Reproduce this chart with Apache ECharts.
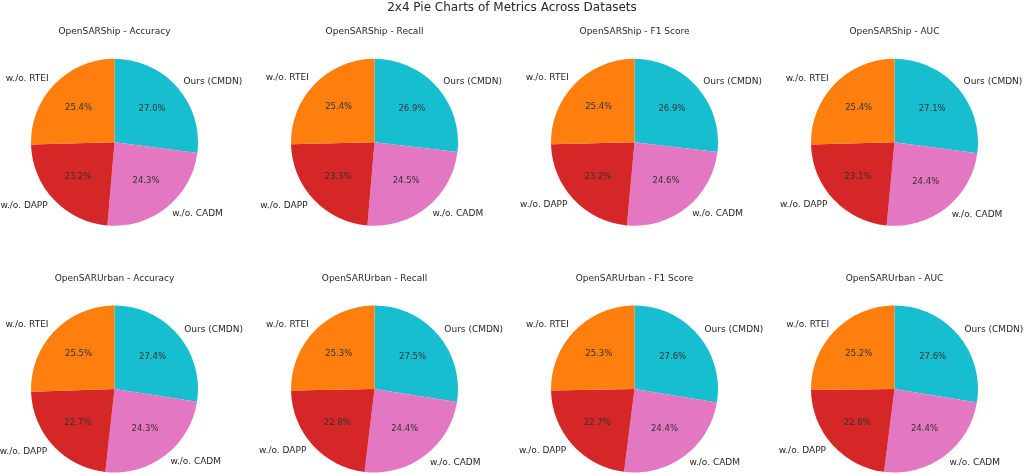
<!DOCTYPE html>
<html>
<head>
<meta charset="utf-8">
<script src="https://cdn.jsdelivr.net/npm/echarts@6/dist/echarts.min.js"></script>
<style>
  html, body { margin: 0; padding: 0; background: #fff; }
  #chart { width: 1024px; height: 474px; }
</style>
</head>
<body>
<div id="chart"></div>
<script>
// slice order, clockwise from 12 o'clock
const methods = ["Ours (CMDN)", "w./o. CADM", "w./o. DAPP", "w./o. RTEI"];
const colors = ["#17becf", "#e377c2", "#d62728", "#ff7f0e"];

const datasets = ["OpenSARShip", "OpenSARUrban"];
const metrics = ["Accuracy", "Recall", "F1 Score", "AUC"];

// shares (%), one array per panel
const shipAccuracy = [27.0, 24.3, 23.2, 25.4];
const shipRecall = [26.9, 24.5, 23.3, 25.4];
const shipF1 = [26.9, 24.6, 23.2, 25.4];
const shipAUC = [27.1, 24.4, 23.1, 25.4];
const urbanAccuracy = [27.4, 24.3, 22.7, 25.5];
const urbanRecall = [27.5, 24.4, 22.8, 25.3];
const urbanF1 = [27.6, 24.4, 22.7, 25.3];
const urbanAUC = [27.6, 24.4, 22.8, 25.2];

const panels = [
  [shipAccuracy, shipRecall, shipF1, shipAUC],
  [urbanAccuracy, urbanRecall, urbanF1, urbanAUC]
];

const colX = [114.5, 374.5, 634.5, 894.5];
const rowY = [142.3, 389];
const R = 83.5;
const font = "DejaVu Sans";

const chart = echarts.init(document.getElementById("chart"));

const titles = [{
  text: "2x4 Pie Charts of Metrics Across Datasets",
  left: 512, top: 2, textAlign: "center", padding: 0,
  textStyle: { fontFamily: font, fontSize: 12, fontWeight: "normal", color: "#262626" }
}];
const series = [];

datasets.forEach((ds, ri) => {
  metrics.forEach((m, ci) => {
    const vals = panels[ri][ci];
    const data = methods.map((name, k) => ({ name: name, value: vals[k] }));
    const center = [colX[ci], rowY[ri]];
    titles.push({
      text: ds + " - " + m,
      left: colX[ci], top: rowY[ri] - 115, textAlign: "center", padding: 0,
      textStyle: { fontFamily: font, fontSize: 9, fontWeight: "normal", color: "#262626" }
    });
    // wedges with the outer method labels
    series.push({
      type: "pie",
      center: center,
      radius: [0, R],
      startAngle: 90,
      clockwise: true,
      avoidLabelOverlap: false,
      silent: true,
      color: colors,
      itemStyle: { borderWidth: 0 },
      label: {
        position: "outside",
        formatter: "{b}",
        fontFamily: font, fontSize: 9, color: "#262626",
        distanceToLabelLine: 0
      },
      labelLine: { show: false, length: R * 0.1, length2: 0 },
      data: data
    });
    // transparent overlay for the percentage labels at 0.6 r
    series.push({
      type: "pie",
      center: center,
      radius: [R * 0.2 - 6, R],
      startAngle: 90,
      clockwise: true,
      avoidLabelOverlap: false,
      silent: true,
      itemStyle: { color: "rgba(0,0,0,0)", borderWidth: 0 },
      label: {
        position: "inside",
        formatter: (p) => p.value.toFixed(1) + "%",
        fontFamily: font, fontSize: 8.5, color: "#333"
      },
      labelLine: { show: false },
      data: data
    });
  });
});

chart.setOption({
  animation: false,
  title: titles,
  series: series
});
</script>
</body>
</html>
